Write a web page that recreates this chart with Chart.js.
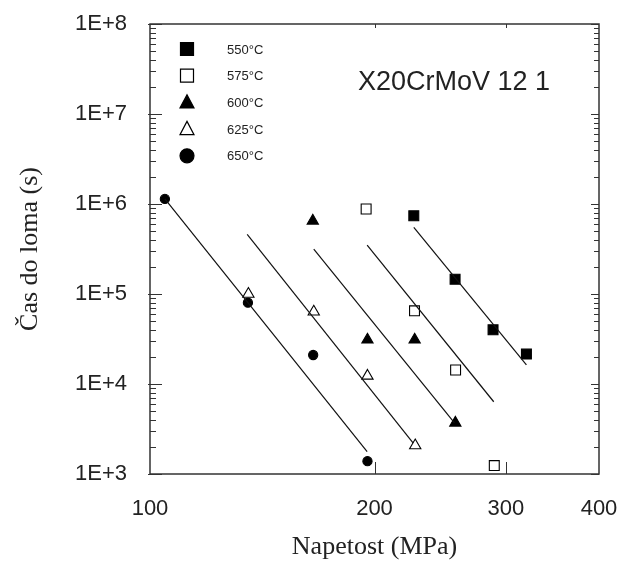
<!DOCTYPE html>
<html>
<head>
<meta charset="utf-8">
<title>X20CrMoV 12 1</title>
<script src="https://cdn.jsdelivr.net/npm/chart.js@4.4.0/dist/chart.umd.min.js"></script>
<style>
  html, body { margin: 0; padding: 0; background: #fff; }
</style>
</head>
<body>
<canvas id="rupture" width="633" height="563"></canvas>
<script>
// axes: stress (MPa) and time to rupture (s)
var stressTicks = [100, 200, 300, 400];
var timeTicks = [1e3, 1e4, 1e5, 1e6, 1e7, 1e8];
var timeLabels = ['1E+3', '1E+4', '1E+5', '1E+6', '1E+7', '1E+8'];
var temps = ['550°C', '575°C', '600°C', '625°C', '650°C'];

// measured points
var stress550 = [225.8, 256.5, 288.4, 319.7];
var time550 = [7.4e5, 1.46e5, 4.0e4, 2.15e4];
var stress575 = [194.9, 226.3, 256.9, 289.5];
var time575 = [8.8e5, 6.5e4, 1.43e4, 1.24e3];
var stress600 = [165.3, 195.7, 226.4, 256.7];
var time600 = [6.5e5, 3.1e4, 3.1e4, 3.7e3];
var stress625 = [135.5, 165.8, 195.7, 226.8];
var time625 = [1.0e5, 6.35e4, 1.23e4, 2.07e3];
var stress650 = [104.7, 135.3, 165.5, 195.7];
var time650 = [1.14e6, 8.0e4, 2.1e4, 1.39e3];

// fitted lines, start and end
var fitStress550 = [225.8, 319.7];
var fitTime550 = [5.5e5, 1.63e4];
var fitStress575 = [195.5, 289];
var fitTime575 = [3.5e5, 6.35e3];
var fitStress600 = [165.8, 256];
var fitTime600 = [3.16e5, 3.7e3];
var fitStress625 = [135.0, 225.4];
var fitTime625 = [4.6e5, 2.2e3];
var fitStress650 = [104.7, 195.5];
var fitTime650 = [1.14e6, 1.77e3];

function pts(xs, ys) {
  return xs.map(function(x, i) { return {x: x, y: ys[i]}; });
}

var markStyle = ['rect', 'rect', 'triangle', 'triangle', 'circle'];
var markFill = ['#000', '#fff', '#000', '#fff', '#000'];
var markRadius = [7, 7, 6.5, 6.5, 4.6];

var measured = [pts(stress550, time550), pts(stress575, time575), pts(stress600, time600),
                pts(stress625, time625), pts(stress650, time650)];
var fits = [pts(fitStress550, fitTime550), pts(fitStress575, fitTime575), pts(fitStress600, fitTime600),
            pts(fitStress625, fitTime625), pts(fitStress650, fitTime650)];

var datasets = [];
for (var i = 0; i < fits.length; i++) {
  datasets.push({
    label: 'fit ' + temps[i],
    data: fits[i],
    showLine: true,
    pointRadius: 0,
    borderColor: '#111',
    borderWidth: 1.2,
    fill: false
  });
}
for (var i = 0; i < measured.length; i++) {
  datasets.push({
    label: temps[i],
    data: measured[i],
    showLine: false,
    pointStyle: markStyle[i],
    pointRadius: markRadius[i],
    pointBackgroundColor: markFill[i],
    pointBorderColor: '#000',
    pointBorderWidth: 1.1
  });
}

function drawMark(ctx, kind, fill, x, y, s) {
  ctx.beginPath();
  if (kind == 'rect') {
    ctx.rect(x - s / 2, y - s / 2, s, s);
  } else if (kind == 'triangle') {
    ctx.moveTo(x, y - s * 0.55);
    ctx.lineTo(x + s / 2, y + s * 0.4);
    ctx.lineTo(x - s / 2, y + s * 0.4);
    ctx.closePath();
  } else {
    ctx.arc(x, y, s / 2, 0, Math.PI * 2);
  }
  ctx.fillStyle = fill;
  ctx.fill();
  ctx.lineWidth = 1.2;
  ctx.strokeStyle = '#000';
  ctx.stroke();
}

var frame = {
  id: 'frame',
  afterDraw: function(chart) {
    var ctx = chart.ctx;
    var a = chart.chartArea;
    var xs = chart.scales.x, ys = chart.scales.y;
    ctx.save();
    ctx.strokeStyle = '#333';
    ctx.lineWidth = 1.5;
    ctx.strokeRect(a.left, a.top, a.right - a.left, a.bottom - a.top);

    // y ticks, both sides, pointing in
    ctx.lineWidth = 1;
    ctx.beginPath();
    for (var d = 0; d < timeTicks.length; d++) {
      for (var m = 1; m <= 9; m++) {
        var v = timeTicks[d] * m;
        if (v > timeTicks[timeTicks.length - 1]) break;
        var py = Math.round(ys.getPixelForValue(v)) + 0.5;
        var lenL = m == 1 ? 12 : 6;
        var lenR = m == 1 ? 8 : 5;
        ctx.moveTo(a.left - (m == 1 ? 2 : 0), py);
        ctx.lineTo(a.left + lenL, py);
        ctx.moveTo(a.right, py);
        ctx.lineTo(a.right - lenR, py);
      }
    }
    // x ticks at 200 and 300
    for (var k = 1; k < stressTicks.length - 1; k++) {
      var px = Math.round(xs.getPixelForValue(stressTicks[k])) + 0.5;
      ctx.moveTo(px, a.bottom);
      ctx.lineTo(px, a.bottom - 12);
      ctx.moveTo(px, a.top);
      ctx.lineTo(px, a.top + 4);
    }
    ctx.stroke();

    // legend
    var lx = a.left + 37, ly = a.top + 25, step = 26.7;
    for (var i = 0; i < temps.length; i++) {
      drawMark(ctx, markStyle[i], markFill[i], lx, ly + i * step, markStyle[i] == 'rect' ? 13 : 14);
      ctx.fillStyle = '#222';
      ctx.font = '13px "Liberation Sans", Arial, sans-serif';
      ctx.textAlign = 'left';
      ctx.textBaseline = 'middle';
      ctx.fillText(temps[i], lx + 40, ly + i * step + 1);
    }

    // steel grade
    ctx.font = '27px "Liberation Sans", Arial, sans-serif';
    ctx.fillStyle = '#222';
    ctx.textAlign = 'left';
    ctx.textBaseline = 'middle';
    ctx.fillText('X20CrMoV 12 1', 358, 83);
    ctx.restore();
  }
};

var ctx = document.getElementById('rupture').getContext('2d');
var chart = new Chart(ctx, {
  type: 'scatter',
  data: { datasets: datasets },
  options: {
    responsive: false,
    animation: false,
    devicePixelRatio: 1,
    layout: { padding: { left: 0, top: 24, right: 34, bottom: 0 } },
    plugins: {
      legend: { display: false },
      tooltip: { enabled: false }
    },
    scales: {
      x: {
        type: 'logarithmic',
        min: 100,
        max: 400,
        afterBuildTicks: function(s) { s.ticks = stressTicks.map(function(v) { return {value: v}; }); },
        afterFit: function(s) { s.height = 89; s.paddingLeft = 0; s.paddingRight = 0; },
        grid: { display: false, drawTicks: false },
        border: { display: false },
        ticks: {
          autoSkip: false,
          maxRotation: 0,
          padding: 22,
          color: '#222',
          font: { family: '"Liberation Sans", Arial, sans-serif', size: 22 },
          callback: function(v) { return String(v); }
        },
        title: {
          display: true,
          text: 'Napetost (MPa)',
          color: '#222',
          font: { family: '"Liberation Serif", "Times New Roman", serif', size: 26 },
          padding: { top: 0, bottom: 0 }
        }
      },
      y: {
        type: 'logarithmic',
        min: 1e3,
        max: 1e8,
        afterBuildTicks: function(s) { s.ticks = timeTicks.map(function(v) { return {value: v}; }); },
        afterFit: function(s) { s.width = 150; s.paddingTop = 0; s.paddingBottom = 0; },
        grid: { display: false, drawTicks: false },
        border: { display: false },
        ticks: {
          autoSkip: false,
          padding: 23,
          color: '#222',
          font: { family: '"Liberation Sans", Arial, sans-serif', size: 22 },
          callback: function(v, idx) { return timeLabels[idx]; }
        },
        title: {
          display: true,
          text: 'Čas do loma (s)',
          color: '#222',
          font: { family: '"Liberation Serif", "Times New Roman", serif', size: 26 },
          padding: { top: 15, bottom: 0 }
        }
      }
    }
  },
  plugins: [frame]
});
</script>
</body>
</html>
